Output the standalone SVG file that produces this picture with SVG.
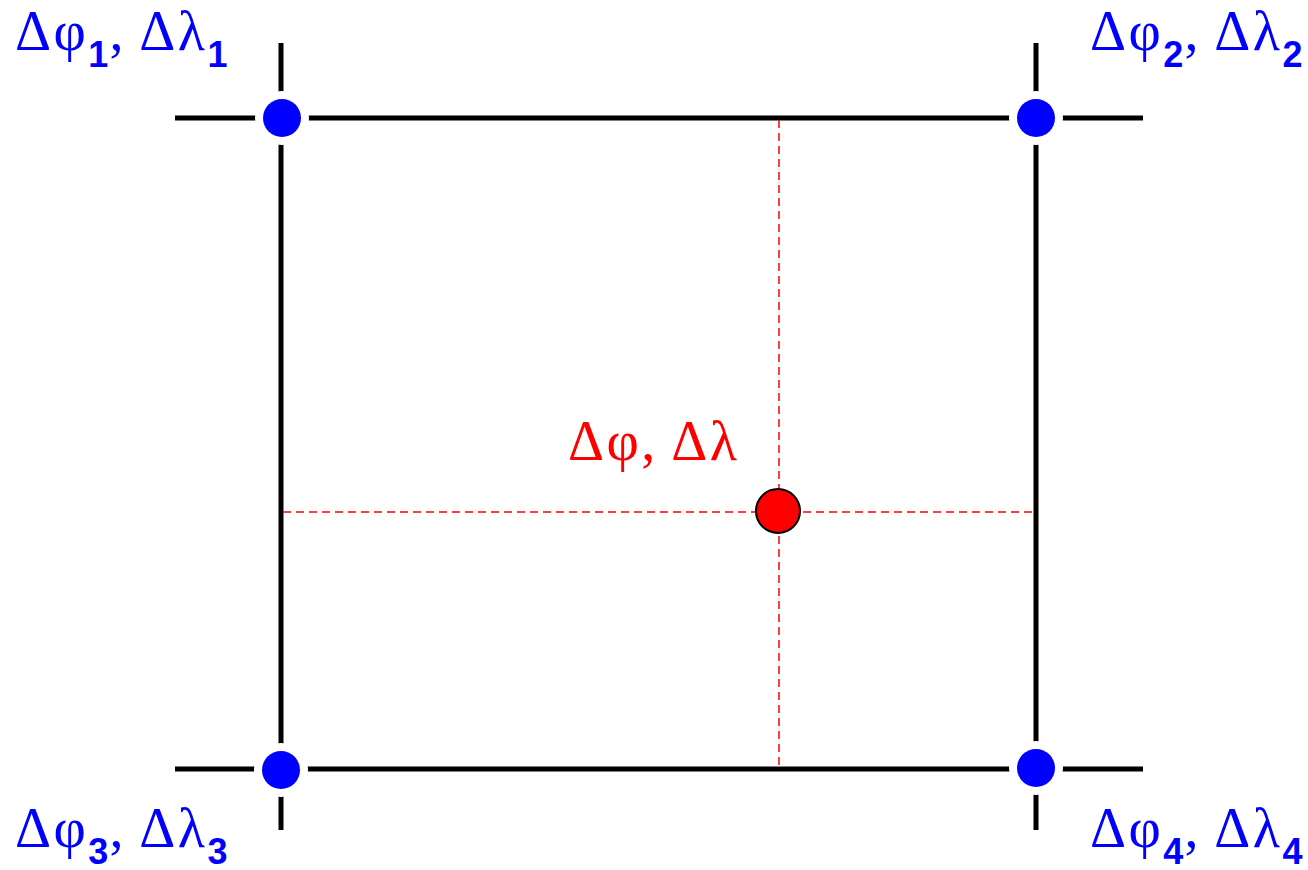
<svg xmlns="http://www.w3.org/2000/svg" width="1308" height="870" viewBox="0 0 1308 870">
<style>
.grid{stroke:#000;stroke-width:5;fill:none}
.guide{stroke:#ff0000;stroke-width:1.5;stroke-dasharray:8,5;fill:none}
.halo{fill:#fff}
.node{fill:#0000ff}
.lbl{font-family:"Liberation Serif",serif;font-size:56px;letter-spacing:2.5px;fill:#0000ff}
.sub{font-family:"Liberation Sans",Arial,sans-serif;font-weight:bold;font-size:36px;letter-spacing:1px}
.red{fill:#ff0000}
</style>
<rect width="1308" height="870" fill="#fff"/>
<g id="connectors">
<line class="grid" x1="175" y1="118" x2="1143" y2="118"/>
<line class="grid" x1="175" y1="769" x2="1143" y2="769"/>
<line class="grid" x1="281" y1="43" x2="281" y2="830"/>
<line class="grid" x1="1036" y1="43" x2="1036" y2="830"/>
<line class="guide" x1="283" y1="512" x2="1033" y2="512"/>
<line class="guide" x1="779" y1="120" x2="779" y2="767"/>
</g>
<g id="n1">
<circle class="halo" cx="282" cy="118" r="27"/>
<circle class="node" cx="282" cy="118" r="19"/>
<text class="lbl" x="15" y="50">Δφ<tspan class="sub" dy="17">1</tspan><tspan dy="-17">, Δλ</tspan><tspan class="sub" dy="17">1</tspan></text>
</g>
<g id="n2">
<circle class="halo" cx="1036" cy="118" r="27"/>
<circle class="node" cx="1036" cy="118" r="19"/>
<text class="lbl" x="1090" y="50">Δφ<tspan class="sub" dy="17">2</tspan><tspan dy="-17">, Δλ</tspan><tspan class="sub" dy="17">2</tspan></text>
</g>
<g id="n3">
<circle class="halo" cx="281" cy="770" r="27"/>
<circle class="node" cx="281" cy="770" r="19"/>
<text class="lbl" x="15" y="847">Δφ<tspan class="sub" dy="17">3</tspan><tspan dy="-17">, Δλ</tspan><tspan class="sub" dy="17">3</tspan></text>
</g>
<g id="n4">
<circle class="halo" cx="1036" cy="768" r="27"/>
<circle class="node" cx="1036" cy="768" r="19"/>
<text class="lbl" x="1090" y="847">Δφ<tspan class="sub" dy="17">4</tspan><tspan dy="-17">, Δλ</tspan><tspan class="sub" dy="17">4</tspan></text>
</g>
<g id="target">
<circle cx="778" cy="511" r="22" fill="#ff0000" stroke="#000" stroke-width="2"/>
<text class="lbl red" x="568" y="460">Δφ, Δλ</text>
</g>
</svg>
